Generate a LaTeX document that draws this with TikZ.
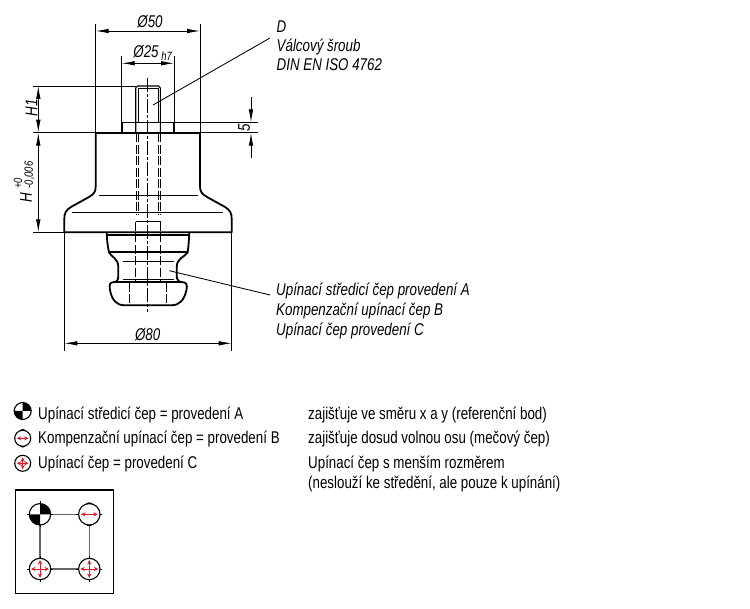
\documentclass[tikz,border=0pt]{standalone}
\usepackage{fontspec}
\setmainfont{Liberation Sans}
\newfontfamily\nrw[FakeStretch=0.785]{Liberation Sans}
\newfontfamily\nrwit[FakeStretch=0.785]{Liberation Sans Italic}
\usetikzlibrary{arrows.meta}
\definecolor{redarrow}{RGB}{214,32,44}
\tikzset{
 thick line/.style={line width=1.8pt,black},
 thin line/.style={line width=0.85pt,black},
 mid line/.style={line width=1.1pt,black},
 hidden/.style={line width=1pt,dash pattern=on 9pt off 2.5pt},
 axis line/.style={line width=1pt,dash pattern=on 14pt off 2pt on 3pt off 2pt},
 dim/.style={line width=0.85pt,black,{Latex[length=13pt,width=4.6pt]}-{Latex[length=13pt,width=4.6pt]}},
 out arrow/.style={line width=0.85pt,black,-{Latex[length=13pt,width=4.6pt]}},
 lab/.style={font=\nrwit\fontsize{17}{19}\selectfont,inner sep=0pt},
 sublab/.style={font=\nrwit\fontsize{12}{13}\selectfont,inner sep=0pt},
 note/.style={font=\nrwit\fontsize{17}{19}\selectfont,inner sep=0pt,anchor=base west},
 legend/.style={font=\nrw\fontsize{17}{19}\selectfont,inner sep=0pt,anchor=base west},
 redarr/.style={redarrow,line width=1pt,{Stealth[length=4.5pt,width=4.2pt]}-{Stealth[length=4.5pt,width=4.2pt]}},
 ring/.style={draw=black,fill=white,line width=1.1pt},
 grid line/.style={line width=1.3pt,black!60},
}
\begin{document}
\begin{tikzpicture}[x=1pt,y=-1pt]
\useasboundingbox (0,0) rectangle (750,609);
% --- main body
\draw[thick line,line join=round] (95.7,132.7) -- (95.7,186) .. controls (95.7,192) and (94,194) .. (89,197) -- (71,207) .. controls (66,210) and (64.3,213) .. (64.3,219) -- (64.3,232.3) -- (231.7,232.3) -- (231.7,219) .. controls (231.7,213) and (230,210) .. (225,207) -- (207,197) .. controls (202,194) and (200,192) .. (200,186) -- (200,132.7);
\draw[thin line] (99.3,195.7) -- (197.7,195.7) (71.7,212.3) -- (223.3,212.3);
% base line, flange, pin
\draw[thick line] (95.7,132.7) -- (200,132.7);
\draw[thin line] (32.7,132.7) -- (95.7,132.7) (200,132.7) -- (257.7,132.7);
\draw[mid line] (121.7,122.3) -- (174,122.3);
\draw[thin line] (174,122.3) -- (257.7,122.3);
\draw[thick line] (121.7,132.7) -- (121.7,122.3) (174,132.7) -- (174,122.3);
\draw[mid line] (135.7,132.7) -- (135.7,88) -- (137.7,86) -- (158.5,86) -- (160.3,88) -- (160.3,132.7);
\draw[thin line] (138.3,122.3) -- (138.3,88.5) -- (158,88.5) -- (158,122.3);
\draw[thin line] (33,86) -- (135.7,86);
% hidden screw
\draw[hidden] (136,133.5) -- (136,215) (138.3,133.5) -- (138.3,215) (158,133.5) -- (158,215) (160.7,133.5) -- (160.7,215);
\draw[thin line] (135.7,221.7) -- (160.7,221.7);
\draw[hidden] (135.7,221.7) -- (135.7,282) (160.7,221.7) -- (160.7,282);
% --- clamping pin
\draw[thick line,line join=round] (106.7,232.3) .. controls (107,240) and (107.5,246) .. (109,252.3) .. controls (111,257) and (118.3,258) .. (118.3,267) -- (118.3,276) .. controls (118.3,280) and (117,282.3) .. (113,282.3) .. controls (110,282.3) and (109,285) .. (110,290) .. controls (112,300) and (116,305.3) .. (125,305.3) -- (171,305.3) .. controls (180,305.3) and (184,300) .. (186.5,290) .. controls (187.5,285) and (186.5,282.3) .. (183,282.3) .. controls (179,282.3) and (176.7,280) .. (176.7,276) -- (176.7,267) .. controls (176.7,258) and (185,257) .. (187.7,252.3) .. controls (188.5,246) and (189,240) .. (189.3,232.3);
\draw[mid line] (106.7,235) -- (189.3,235);
\draw[thick line] (109,252.3) -- (187.7,252.3);
\draw[thin line] (122.7,261.7) -- (174,261.7) (122.7,279.3) -- (174,279.3);
\draw[thick line] (113,282.3) -- (183,282.3);
\draw[hidden] (129.3,283) -- (129.3,305) (166.7,283) -- (166.7,305);
% centre line
\draw[axis line] (147.7,78) -- (147.7,311.7);
% --- extension lines
\draw[thin line] (95.7,24) -- (95.7,132.7) (200,24) -- (200,132.7);
\draw[thin line] (121.7,56) -- (121.7,122.3) (174,56) -- (174,122.3);
\draw[thin line] (33,232.3) -- (64.3,232.3);
\draw[thin line] (64.3,232.3) -- (64.3,351) (231.7,232.3) -- (231.7,351);
% --- dimensions
\coordinate (d50a) at (95.7,31); \coordinate (d50b) at (200,31);
\coordinate (d25a) at (121.7,63.3); \coordinate (d25b) at (174,63.3);
\coordinate (d80a) at (64.3,343.3); \coordinate (d80b) at (231.7,343.3);
\coordinate (h1a) at (38.3,86); \coordinate (h1b) at (38.3,132.7);
\coordinate (ha) at (38.3,132.7); \coordinate (hb) at (38.3,232.3);
\coordinate (f1) at (251,96.7); \coordinate (f2) at (251,122.3);
\coordinate (f3) at (251,132.7); \coordinate (f4) at (251,158);
\draw[dim] (d50a) -- (d50b);
\draw[dim] (d25a) -- (d25b);
\draw[dim] (d80a) -- (d80b);
\draw[dim] (h1a) -- (h1b);
\draw[dim] (ha) -- (hb);
\draw[out arrow] (f1) -- (f2);
\draw[out arrow] (f4) -- (f3);
\node[lab] (t50) at (150,22) {Ø50};
\node[lab] (t25) at (146,52) {Ø25};
\node[sublab] (th7) at (166.5,56) {h7};
\node[lab] (t80) at (147.7,335) {Ø80};
\node[lab,rotate=90] (th1) at (31.5,107.5) {H1};
\node[lab,rotate=90] (t5) at (244,127.5) {5};
\node[lab,rotate=90] (th) at (26,197.5) {H};
\node[sublab,rotate=90] (thp) at (18,183.5) {+0};
\node[sublab,rotate=90] (thm) at (29.5,175) {-0,006};
% --- leaders and notes
\coordinate (ld1) at (153,105); \coordinate (ld2) at (270,38);
\coordinate (lp1) at (169.3,270.7); \coordinate (lp2) at (270,295);
\draw[thin line] (ld1) -- (ld2);
\draw[thin line] (lp1) -- (lp2);
\node[note] (nd1) at (276.5,33) {D};
\node[note] (nd2) at (276.5,52) {Válcový šroub};
\node[note] (nd3) at (276.5,71) {DIN EN ISO 4762};
\node[note] (np1) at (276,296) {Upínací středicí čep provedení A};
\node[note] (np2) at (276,316) {Kompenzační upínací čep B};
\node[note] (np3) at (276,336) {Upínací čep provedení C};
% --- legend text
\node[legend] (l1) at (38,420) {Upínací středicí čep = provedení A};
\node[legend] (l2) at (38,444) {Kompenzační upínací čep = provedení B};
\node[legend] (l3) at (38,469) {Upínací čep = provedení C};
\node[legend] (r1) at (308,420) {zajišťuje ve směru x a y (referenční bod)};
\node[legend] (r2) at (308,444) {zajišťuje dosud volnou osu (mečový čep)};
\node[legend] (r3) at (308,469) {Upínací čep s menším rozměrem};
\node[legend] (r4) at (308,489) {(neslouží ke středění, ale pouze k upínání)};
% --- legend symbols
\begin{scope}[shift={(22.7,411)},y=1pt]
 \fill[white] (0,0) circle (8.5);
 \fill[black] (0,0) -- (8.5,0) arc[start angle=0,end angle=90,radius=8.5] -- cycle;
 \fill[black] (0,0) -- (-8.5,0) arc[start angle=180,end angle=270,radius=8.5] -- cycle;
 \draw[mid line] (0,0) circle (8.5);
\end{scope}
\begin{scope}[shift={(22.7,438.3)},y=1pt]
 \fill[black] (-3.5,7) .. controls (-2,10) and (2,10) .. (3.5,7) -- cycle;
 \fill[black] (-3.5,-7) .. controls (-2,-10) and (2,-10) .. (3.5,-7) -- cycle;
 \draw[ring] (0,0) circle (8);
 \draw[redarr] (-6,0) -- (6,0);
\end{scope}
\begin{scope}[shift={(22.7,463.3)},y=1pt]
 \draw[ring] (0,0) circle (8);
 \draw[redarr] (-6,0) -- (6,0);
 \draw[redarr] (0,-6) -- (0,6);
\end{scope}
% --- plate scheme
\draw[line width=1pt] (15.7,490) rectangle (113.7,593.3);
\draw[grid line] (40,514.3) -- (89.3,514.3) -- (89.3,569) -- (40,569) -- cycle;
\begin{scope}[shift={(40,514.3)},y=1pt]
 \fill[white] (0,0) circle (10.7);
 \fill[black] (0,0) -- (10.7,0) arc[start angle=0,end angle=90,radius=10.7] -- cycle;
 \fill[black] (0,0) -- (-10.7,0) arc[start angle=180,end angle=270,radius=10.7] -- cycle;
 \draw[mid line] (0,0) circle (10.7);
 \draw[thin line] (-13,0) -- (-10.7,0) (10.7,0) -- (13,0) (0,10.7) -- (0,13) (0,-10.7) -- (0,-13);
\end{scope}
\begin{scope}[shift={(89.3,514.3)},y=1pt]
 \fill[black] (-4.5,9) .. controls (-2.5,13) and (2.5,13) .. (4.5,9) -- cycle;
 \fill[black] (-4.5,-9) .. controls (-2.5,-13) and (2.5,-13) .. (4.5,-9) -- cycle;
 \draw[ring] (0,0) circle (10.7);
 \draw[thin line] (-13,0) -- (-10.7,0) (10.7,0) -- (13,0);
 \draw[redarr] (-8.5,0) -- (8.5,0);
\end{scope}
\begin{scope}[shift={(40,569)},y=1pt]
 \draw[ring] (0,0) circle (10.7);
 \draw[thin line] (-13,0) -- (-10.7,0) (10.7,0) -- (13,0) (0,10.7) -- (0,13) (0,-10.7) -- (0,-13);
 \draw[redarr] (-9,0) -- (9,0);
 \draw[redarr] (0,-9) -- (0,9);
\end{scope}
\begin{scope}[shift={(89.3,569)},y=1pt]
 \draw[ring] (0,0) circle (10.7);
 \draw[thin line] (-13,0) -- (-10.7,0) (10.7,0) -- (13,0) (0,10.7) -- (0,13) (0,-10.7) -- (0,-13);
 \draw[redarr] (-9,0) -- (9,0);
 \draw[redarr] (0,-9) -- (0,9);
\end{scope}
\end{tikzpicture}
\end{document}
